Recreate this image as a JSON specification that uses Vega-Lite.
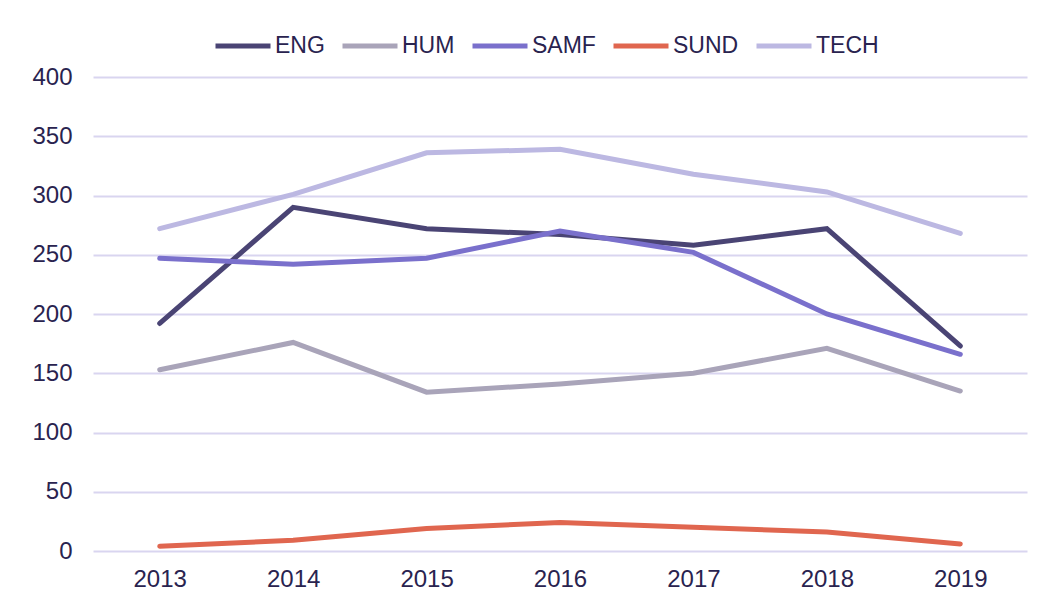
{
  "$schema": "https://vega.github.io/schema/vega-lite/v6.json",
  "width": 934,
  "height": 474,
  "autosize": {"type": "none"},
  "padding": {"left": 93, "top": 77, "right": 21, "bottom": 60},
  "background": "white",
  "config": {
    "view": {"stroke": null},
    "font": "Liberation Sans",
    "axis": {"labelFont": "Liberation Sans", "labelColor": "#29234f", "labelFontSize": 24}
  },
  "data": {
    "values": [
      {"year": "2013", "fak": "ENG", "n": 192},
      {"year": "2014", "fak": "ENG", "n": 290},
      {"year": "2015", "fak": "ENG", "n": 272},
      {"year": "2016", "fak": "ENG", "n": 267},
      {"year": "2017", "fak": "ENG", "n": 258},
      {"year": "2018", "fak": "ENG", "n": 272},
      {"year": "2019", "fak": "ENG", "n": 173},
      {"year": "2013", "fak": "HUM", "n": 153},
      {"year": "2014", "fak": "HUM", "n": 176},
      {"year": "2015", "fak": "HUM", "n": 134},
      {"year": "2016", "fak": "HUM", "n": 141},
      {"year": "2017", "fak": "HUM", "n": 150},
      {"year": "2018", "fak": "HUM", "n": 171},
      {"year": "2019", "fak": "HUM", "n": 135},
      {"year": "2013", "fak": "SAMF", "n": 247},
      {"year": "2014", "fak": "SAMF", "n": 242},
      {"year": "2015", "fak": "SAMF", "n": 247},
      {"year": "2016", "fak": "SAMF", "n": 270},
      {"year": "2017", "fak": "SAMF", "n": 252},
      {"year": "2018", "fak": "SAMF", "n": 200},
      {"year": "2019", "fak": "SAMF", "n": 166},
      {"year": "2013", "fak": "SUND", "n": 4},
      {"year": "2014", "fak": "SUND", "n": 9},
      {"year": "2015", "fak": "SUND", "n": 19},
      {"year": "2016", "fak": "SUND", "n": 24},
      {"year": "2017", "fak": "SUND", "n": 20},
      {"year": "2018", "fak": "SUND", "n": 16},
      {"year": "2019", "fak": "SUND", "n": 6},
      {"year": "2013", "fak": "TECH", "n": 272},
      {"year": "2014", "fak": "TECH", "n": 301},
      {"year": "2015", "fak": "TECH", "n": 336},
      {"year": "2016", "fak": "TECH", "n": 339},
      {"year": "2017", "fak": "TECH", "n": 318},
      {"year": "2018", "fak": "TECH", "n": 303},
      {"year": "2019", "fak": "TECH", "n": 268}
    ]
  },
  "mark": {"type": "line", "strokeWidth": 5, "strokeCap": "round", "strokeJoin": "miter"},
  "encoding": {
    "x": {
      "field": "year", "type": "ordinal",
      "scale": {"type": "point", "padding": 0.5},
      "axis": {"title": null, "labelAngle": 0, "domain": false, "ticks": false, "grid": false, "labelPadding": 16}
    },
    "y": {
      "field": "n", "type": "quantitative",
      "scale": {"domain": [0, 400], "nice": false},
      "axis": {"title": null, "values": [0, 50, 100, 150, 200, 250, 300, 350, 400], "domain": false, "ticks": false, "labelPadding": 21, "gridColor": "#d9d5f0", "gridWidth": 2, "gridOpacity": 1}
    },
    "color": {
      "field": "fak", "type": "nominal",
      "scale": {"domain": ["ENG", "HUM", "SAMF", "SUND", "TECH"], "range": ["#4a4474", "#a9a4b9", "#7a70cc", "#e0664f", "#bcb8e2"]},
      "legend": {
        "title": null, "orient": "none", "direction": "horizontal",
        "legendX": 120, "legendY": -61,
        "symbolType": "stroke", "symbolSize": 3025, "symbolStrokeWidth": 5,
        "labelFont": "Liberation Sans", "labelFontSize": 23, "labelColor": "#29234f",
        "labelOffset": 2, "columnPadding": 7
      }
    }
  }
}
